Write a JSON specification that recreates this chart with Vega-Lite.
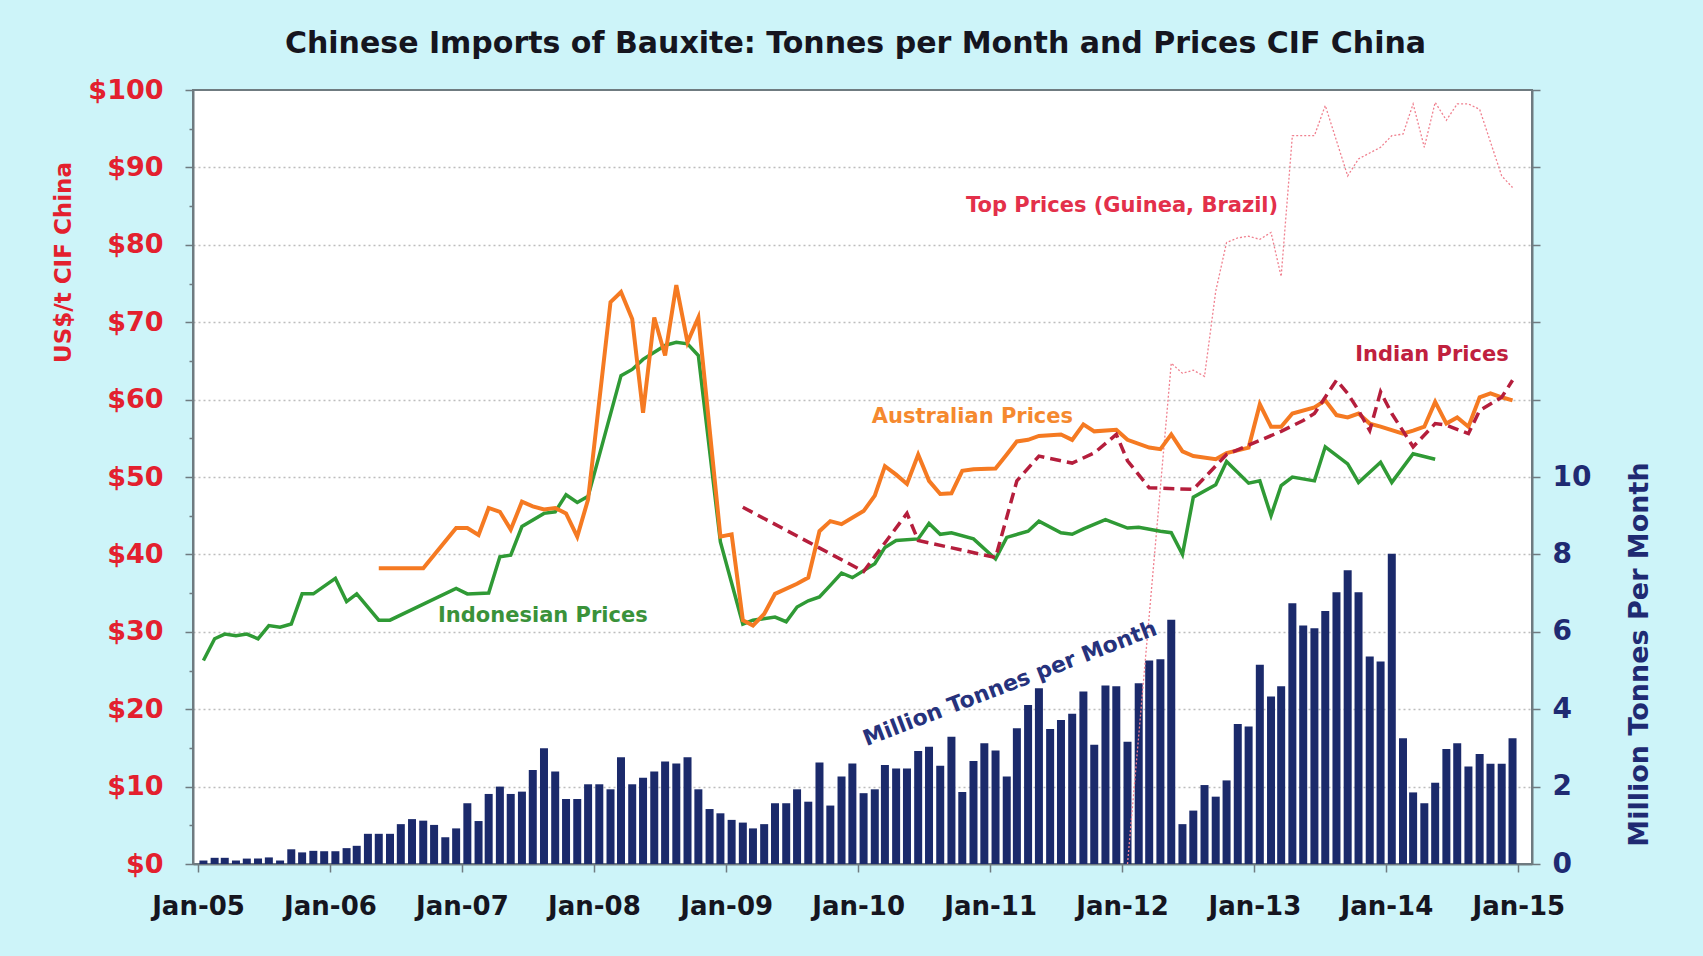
{
  "$schema": "https://vega.github.io/schema/vega-lite/v6.json",
  "width": 1339,
  "height": 774,
  "autosize": {"type": "none"},
  "padding": {"left": 193, "top": 90, "right": 171, "bottom": 92},
  "background": "#cdf4f9",
  "title": {
    "text": "Chinese Imports of Bauxite: Tonnes per Month and Prices CIF China",
    "font": "DejaVu Sans", "fontWeight": "bold", "fontSize": 30, "color": "#15151f",
    "baseline": "alphabetic", "offset": 39, "anchor": "middle", "dx": -7, "dy": 46
  },
  "config": {
    "view": {"fill": "white", "stroke": "#6f7b80", "strokeWidth": 2},
    "axis": {"labelFont": "DejaVu Sans", "titleFont": "DejaVu Sans", "labelFontWeight": "bold", "titleFontWeight": "bold", "domainColor": "#6f7b80", "domainWidth": 2, "tickColor": "#6f7b80", "tickWidth": 1.5}
  },
  "datasets": {
    "imports": [
      {"date": "2005-01-16", "mt": 0.09}, {"date": "2005-02-16", "mt": 0.16}, {"date": "2005-03-16", "mt": 0.16}, {"date": "2005-04-16", "mt": 0.09},
      {"date": "2005-05-16", "mt": 0.14}, {"date": "2005-06-16", "mt": 0.14}, {"date": "2005-07-16", "mt": 0.17}, {"date": "2005-08-16", "mt": 0.09},
      {"date": "2005-09-16", "mt": 0.38}, {"date": "2005-10-16", "mt": 0.30}, {"date": "2005-11-16", "mt": 0.34}, {"date": "2005-12-16", "mt": 0.33},
      {"date": "2006-01-16", "mt": 0.33}, {"date": "2006-02-16", "mt": 0.41}, {"date": "2006-03-16", "mt": 0.47}, {"date": "2006-04-16", "mt": 0.78},
      {"date": "2006-05-16", "mt": 0.78}, {"date": "2006-06-16", "mt": 0.78}, {"date": "2006-07-16", "mt": 1.03}, {"date": "2006-08-16", "mt": 1.16},
      {"date": "2006-09-16", "mt": 1.12}, {"date": "2006-10-16", "mt": 1.01}, {"date": "2006-11-16", "mt": 0.69}, {"date": "2006-12-16", "mt": 0.92},
      {"date": "2007-01-16", "mt": 1.57}, {"date": "2007-02-16", "mt": 1.11}, {"date": "2007-03-16", "mt": 1.81}, {"date": "2007-04-16", "mt": 2.00},
      {"date": "2007-05-16", "mt": 1.81}, {"date": "2007-06-16", "mt": 1.87}, {"date": "2007-07-16", "mt": 2.43}, {"date": "2007-08-16", "mt": 2.99},
      {"date": "2007-09-16", "mt": 2.39}, {"date": "2007-10-16", "mt": 1.68}, {"date": "2007-11-16", "mt": 1.68}, {"date": "2007-12-16", "mt": 2.06},
      {"date": "2008-01-16", "mt": 2.06}, {"date": "2008-02-16", "mt": 1.93}, {"date": "2008-03-16", "mt": 2.76}, {"date": "2008-04-16", "mt": 2.06},
      {"date": "2008-05-16", "mt": 2.23}, {"date": "2008-06-16", "mt": 2.39}, {"date": "2008-07-16", "mt": 2.65}, {"date": "2008-08-16", "mt": 2.60},
      {"date": "2008-09-16", "mt": 2.76}, {"date": "2008-10-16", "mt": 1.93}, {"date": "2008-11-16", "mt": 1.42}, {"date": "2008-12-16", "mt": 1.31},
      {"date": "2009-01-16", "mt": 1.14}, {"date": "2009-02-16", "mt": 1.07}, {"date": "2009-03-16", "mt": 0.92}, {"date": "2009-04-16", "mt": 1.03},
      {"date": "2009-05-16", "mt": 1.57}, {"date": "2009-06-16", "mt": 1.57}, {"date": "2009-07-16", "mt": 1.93}, {"date": "2009-08-16", "mt": 1.61},
      {"date": "2009-09-16", "mt": 2.62}, {"date": "2009-10-16", "mt": 1.51}, {"date": "2009-11-16", "mt": 2.26}, {"date": "2009-12-16", "mt": 2.60},
      {"date": "2010-01-16", "mt": 1.83}, {"date": "2010-02-16", "mt": 1.93}, {"date": "2010-03-16", "mt": 2.56}, {"date": "2010-04-16", "mt": 2.47},
      {"date": "2010-05-16", "mt": 2.47}, {"date": "2010-06-16", "mt": 2.92}, {"date": "2010-07-16", "mt": 3.03}, {"date": "2010-08-16", "mt": 2.54},
      {"date": "2010-09-16", "mt": 3.29}, {"date": "2010-10-16", "mt": 1.86}, {"date": "2010-11-16", "mt": 2.66}, {"date": "2010-12-16", "mt": 3.12},
      {"date": "2011-01-16", "mt": 2.93}, {"date": "2011-02-16", "mt": 2.26}, {"date": "2011-03-16", "mt": 3.51}, {"date": "2011-04-16", "mt": 4.11},
      {"date": "2011-05-16", "mt": 4.54}, {"date": "2011-06-16", "mt": 3.49}, {"date": "2011-07-16", "mt": 3.72}, {"date": "2011-08-16", "mt": 3.88},
      {"date": "2011-09-16", "mt": 4.46}, {"date": "2011-10-16", "mt": 3.08}, {"date": "2011-11-16", "mt": 4.61}, {"date": "2011-12-16", "mt": 4.59},
      {"date": "2012-01-16", "mt": 3.16}, {"date": "2012-02-16", "mt": 4.67}, {"date": "2012-03-16", "mt": 5.26}, {"date": "2012-04-16", "mt": 5.29},
      {"date": "2012-05-16", "mt": 6.31}, {"date": "2012-06-16", "mt": 1.03}, {"date": "2012-07-16", "mt": 1.38}, {"date": "2012-08-16", "mt": 2.04},
      {"date": "2012-09-16", "mt": 1.74}, {"date": "2012-10-16", "mt": 2.16}, {"date": "2012-11-16", "mt": 3.62}, {"date": "2012-12-16", "mt": 3.55},
      {"date": "2013-01-16", "mt": 5.15}, {"date": "2013-02-16", "mt": 4.33}, {"date": "2013-03-16", "mt": 4.59}, {"date": "2013-04-16", "mt": 6.74},
      {"date": "2013-05-16", "mt": 6.16}, {"date": "2013-06-16", "mt": 6.09}, {"date": "2013-07-16", "mt": 6.54}, {"date": "2013-08-16", "mt": 7.02},
      {"date": "2013-09-16", "mt": 7.59}, {"date": "2013-10-16", "mt": 7.02}, {"date": "2013-11-16", "mt": 5.36}, {"date": "2013-12-16", "mt": 5.23},
      {"date": "2014-01-16", "mt": 8.02}, {"date": "2014-02-16", "mt": 3.25}, {"date": "2014-03-16", "mt": 1.85}, {"date": "2014-04-16", "mt": 1.57},
      {"date": "2014-05-16", "mt": 2.10}, {"date": "2014-06-16", "mt": 2.97}, {"date": "2014-07-16", "mt": 3.12}, {"date": "2014-08-16", "mt": 2.52},
      {"date": "2014-09-16", "mt": 2.84}, {"date": "2014-10-16", "mt": 2.59}, {"date": "2014-11-16", "mt": 2.59}, {"date": "2014-12-16", "mt": 3.25}
    ],
    "indonesian": [
      {"date": "2005-01-16", "price": 26.3}, {"date": "2005-02-16", "price": 29.1}, {"date": "2005-03-16", "price": 29.7}, {"date": "2005-04-16", "price": 29.5},
      {"date": "2005-05-16", "price": 29.7}, {"date": "2005-06-16", "price": 29.1}, {"date": "2005-07-16", "price": 30.8}, {"date": "2005-08-16", "price": 30.6},
      {"date": "2005-09-16", "price": 31.0}, {"date": "2005-10-16", "price": 34.9}, {"date": "2005-11-16", "price": 34.9}, {"date": "2006-01-16", "price": 36.9},
      {"date": "2006-02-16", "price": 33.9}, {"date": "2006-03-16", "price": 34.9}, {"date": "2006-05-16", "price": 31.5}, {"date": "2006-06-16", "price": 31.5},
      {"date": "2006-12-16", "price": 35.6}, {"date": "2007-01-16", "price": 34.9}, {"date": "2007-03-16", "price": 35.0}, {"date": "2007-04-16", "price": 39.7},
      {"date": "2007-05-16", "price": 39.9}, {"date": "2007-06-16", "price": 43.6}, {"date": "2007-08-16", "price": 45.3}, {"date": "2007-09-16", "price": 45.5},
      {"date": "2007-10-16", "price": 47.7}, {"date": "2007-11-16", "price": 46.7}, {"date": "2007-12-16", "price": 47.5}, {"date": "2008-03-16", "price": 63.1},
      {"date": "2008-04-16", "price": 63.9}, {"date": "2008-05-16", "price": 65.2}, {"date": "2008-07-16", "price": 67.0}, {"date": "2008-08-16", "price": 67.4},
      {"date": "2008-09-16", "price": 67.2}, {"date": "2008-10-16", "price": 65.7}, {"date": "2008-12-16", "price": 41.6}, {"date": "2009-02-16", "price": 31.0},
      {"date": "2009-03-16", "price": 31.5}, {"date": "2009-05-16", "price": 31.9}, {"date": "2009-06-16", "price": 31.3}, {"date": "2009-07-16", "price": 33.2},
      {"date": "2009-08-16", "price": 34.0}, {"date": "2009-09-16", "price": 34.5}, {"date": "2009-10-16", "price": 36.0}, {"date": "2009-11-16", "price": 37.6},
      {"date": "2009-12-16", "price": 37.0}, {"date": "2010-02-16", "price": 38.8}, {"date": "2010-03-16", "price": 40.9}, {"date": "2010-04-16", "price": 41.8},
      {"date": "2010-06-16", "price": 42.0}, {"date": "2010-07-16", "price": 44.0}, {"date": "2010-08-16", "price": 42.6}, {"date": "2010-09-16", "price": 42.8},
      {"date": "2010-11-16", "price": 42.0}, {"date": "2011-01-16", "price": 39.4}, {"date": "2011-02-16", "price": 42.2}, {"date": "2011-04-16", "price": 43.0},
      {"date": "2011-05-16", "price": 44.3}, {"date": "2011-07-16", "price": 42.8}, {"date": "2011-08-16", "price": 42.6}, {"date": "2011-09-16", "price": 43.3},
      {"date": "2011-11-16", "price": 44.5}, {"date": "2012-01-16", "price": 43.4}, {"date": "2012-02-16", "price": 43.5}, {"date": "2012-04-16", "price": 43.0},
      {"date": "2012-05-16", "price": 42.8}, {"date": "2012-06-16", "price": 40.0}, {"date": "2012-07-16", "price": 47.4}, {"date": "2012-09-16", "price": 49.0},
      {"date": "2012-10-16", "price": 52.0}, {"date": "2012-12-16", "price": 49.2}, {"date": "2013-01-16", "price": 49.5}, {"date": "2013-02-16", "price": 45.0},
      {"date": "2013-03-16", "price": 48.9}, {"date": "2013-04-16", "price": 50.0}, {"date": "2013-06-16", "price": 49.5}, {"date": "2013-07-16", "price": 53.9},
      {"date": "2013-09-16", "price": 51.7}, {"date": "2013-10-16", "price": 49.3}, {"date": "2013-12-16", "price": 51.9}, {"date": "2014-01-16", "price": 49.3},
      {"date": "2014-03-16", "price": 53.0}, {"date": "2014-05-16", "price": 52.3}
    ],
    "australian": [
      {"date": "2006-05-16", "price": 38.2}, {"date": "2006-09-16", "price": 38.2}, {"date": "2006-12-16", "price": 43.4}, {"date": "2007-01-16", "price": 43.4},
      {"date": "2007-02-16", "price": 42.5}, {"date": "2007-03-16", "price": 46.0}, {"date": "2007-04-16", "price": 45.5}, {"date": "2007-05-16", "price": 43.2},
      {"date": "2007-06-16", "price": 46.8}, {"date": "2007-07-16", "price": 46.2}, {"date": "2007-08-16", "price": 45.8}, {"date": "2007-09-16", "price": 46.0},
      {"date": "2007-10-16", "price": 45.3}, {"date": "2007-11-16", "price": 42.3}, {"date": "2007-12-16", "price": 47.1}, {"date": "2008-02-16", "price": 72.6},
      {"date": "2008-03-16", "price": 73.9}, {"date": "2008-04-16", "price": 70.4}, {"date": "2008-05-16", "price": 58.3}, {"date": "2008-06-16", "price": 70.6},
      {"date": "2008-07-16", "price": 65.7}, {"date": "2008-08-16", "price": 74.8}, {"date": "2008-09-16", "price": 67.4}, {"date": "2008-10-16", "price": 70.6},
      {"date": "2008-12-16", "price": 42.3}, {"date": "2009-01-16", "price": 42.6}, {"date": "2009-02-16", "price": 31.5}, {"date": "2009-03-16", "price": 30.8},
      {"date": "2009-04-16", "price": 32.3}, {"date": "2009-05-16", "price": 34.9}, {"date": "2009-07-16", "price": 36.2}, {"date": "2009-08-16", "price": 37.0},
      {"date": "2009-09-16", "price": 43.0}, {"date": "2009-10-16", "price": 44.3}, {"date": "2009-11-16", "price": 43.9}, {"date": "2010-01-16", "price": 45.6},
      {"date": "2010-02-16", "price": 47.6}, {"date": "2010-03-16", "price": 51.4}, {"date": "2010-04-16", "price": 50.3}, {"date": "2010-05-16", "price": 49.1},
      {"date": "2010-06-16", "price": 52.9}, {"date": "2010-07-16", "price": 49.5}, {"date": "2010-08-16", "price": 47.8}, {"date": "2010-09-16", "price": 47.9},
      {"date": "2010-10-16", "price": 50.8}, {"date": "2010-11-16", "price": 51.0}, {"date": "2011-01-16", "price": 51.1}, {"date": "2011-02-16", "price": 52.9},
      {"date": "2011-03-16", "price": 54.6}, {"date": "2011-04-16", "price": 54.8}, {"date": "2011-05-16", "price": 55.3}, {"date": "2011-07-16", "price": 55.5},
      {"date": "2011-08-16", "price": 54.8}, {"date": "2011-09-16", "price": 56.8}, {"date": "2011-10-16", "price": 55.9}, {"date": "2011-12-16", "price": 56.1},
      {"date": "2012-01-16", "price": 54.8}, {"date": "2012-03-16", "price": 53.8}, {"date": "2012-04-16", "price": 53.6}, {"date": "2012-05-16", "price": 55.5},
      {"date": "2012-06-16", "price": 53.3}, {"date": "2012-07-16", "price": 52.7}, {"date": "2012-09-16", "price": 52.3}, {"date": "2012-10-16", "price": 53.1},
      {"date": "2012-12-16", "price": 53.8}, {"date": "2013-01-16", "price": 59.4}, {"date": "2013-02-16", "price": 56.5}, {"date": "2013-03-16", "price": 56.5},
      {"date": "2013-04-16", "price": 58.2}, {"date": "2013-06-16", "price": 59.0}, {"date": "2013-07-16", "price": 59.9}, {"date": "2013-08-16", "price": 58.0},
      {"date": "2013-09-16", "price": 57.7}, {"date": "2013-10-16", "price": 58.2}, {"date": "2013-11-16", "price": 56.9}, {"date": "2013-12-16", "price": 56.5},
      {"date": "2014-02-16", "price": 55.6}, {"date": "2014-03-16", "price": 56.0}, {"date": "2014-04-16", "price": 56.5}, {"date": "2014-05-16", "price": 59.7},
      {"date": "2014-06-16", "price": 56.9}, {"date": "2014-07-16", "price": 57.7}, {"date": "2014-08-16", "price": 56.5}, {"date": "2014-09-16", "price": 60.3},
      {"date": "2014-10-16", "price": 60.8}, {"date": "2014-11-16", "price": 60.3}, {"date": "2014-12-16", "price": 59.9}
    ],
    "indian": [
      {"date": "2009-02-16", "price": 46.1}, {"date": "2010-01-16", "price": 37.8}, {"date": "2010-05-16", "price": 45.3}, {"date": "2010-06-16", "price": 41.8},
      {"date": "2011-01-16", "price": 39.6}, {"date": "2011-03-16", "price": 49.5}, {"date": "2011-05-16", "price": 52.7}, {"date": "2011-07-16", "price": 52.1},
      {"date": "2011-08-16", "price": 51.8}, {"date": "2011-10-16", "price": 53.1}, {"date": "2011-12-16", "price": 55.5}, {"date": "2012-01-16", "price": 52.1},
      {"date": "2012-03-16", "price": 48.6}, {"date": "2012-07-16", "price": 48.4}, {"date": "2012-10-16", "price": 52.9}, {"date": "2013-03-16", "price": 55.9},
      {"date": "2013-05-16", "price": 57.3}, {"date": "2013-06-16", "price": 58.2}, {"date": "2013-08-16", "price": 62.5}, {"date": "2013-09-16", "price": 60.8},
      {"date": "2013-10-16", "price": 58.6}, {"date": "2013-11-16", "price": 56.0}, {"date": "2013-12-16", "price": 61.0}, {"date": "2014-01-16", "price": 58.2},
      {"date": "2014-03-16", "price": 53.9}, {"date": "2014-05-16", "price": 56.9}, {"date": "2014-06-16", "price": 56.7}, {"date": "2014-08-16", "price": 55.6},
      {"date": "2014-09-16", "price": 58.6}, {"date": "2014-11-16", "price": 60.3}, {"date": "2014-12-16", "price": 62.5}
    ],
    "top": [
      {"date": "2012-01-16", "price": 0}, {"date": "2012-05-16", "price": 64.7}, {"date": "2012-06-16", "price": 63.4}, {"date": "2012-07-16", "price": 63.8},
      {"date": "2012-08-16", "price": 63.0}, {"date": "2012-09-16", "price": 74.0}, {"date": "2012-10-16", "price": 80.3}, {"date": "2012-11-16", "price": 80.9},
      {"date": "2012-12-16", "price": 81.1}, {"date": "2013-01-16", "price": 80.7}, {"date": "2013-02-16", "price": 81.6}, {"date": "2013-03-16", "price": 75.9},
      {"date": "2013-04-16", "price": 94.1}, {"date": "2013-06-16", "price": 94.1}, {"date": "2013-07-16", "price": 98.0}, {"date": "2013-09-16", "price": 88.9},
      {"date": "2013-10-16", "price": 91.1}, {"date": "2013-12-16", "price": 92.6}, {"date": "2014-01-16", "price": 94.1}, {"date": "2014-02-16", "price": 94.3},
      {"date": "2014-03-16", "price": 98.2}, {"date": "2014-04-16", "price": 92.6}, {"date": "2014-05-16", "price": 98.4}, {"date": "2014-06-16", "price": 96.1},
      {"date": "2014-07-16", "price": 98.2}, {"date": "2014-08-16", "price": 98.2}, {"date": "2014-09-16", "price": 97.5}, {"date": "2014-11-16", "price": 88.9},
      {"date": "2014-12-16", "price": 87.4}
    ],
    "labels": [
      {"date": "2007-08-13", "price": 32.0, "text": "Indonesian Prices"},
      {"date": "2010-11-13", "price": 57.8, "text": "Australian Prices"},
      {"date": "2012-01-01", "price": 85.0, "text": "Top Prices (Guinea, Brazil)"},
      {"date": "2014-05-07", "price": 65.8, "text": "Indian Prices"}
    ],
    "barlabel": [
      {"date": "2011-02-25", "price": 23.3, "text": "Million Tonnes per Month"}
    ]
  },
  "encoding": {
    "x": {
      "field": "date", "type": "temporal",
      "scale": {"type": "utc", "domain": [{"year": 2005, "month": 1, "date": 1, "utc": true}, {"year": 2015, "month": 1, "date": 25, "utc": true}]},
      "axis": {
        "title": null, "grid": false,
        "labelExpr": "utcFormat(datum.value, '%b-%y')",
        "values": [
          {"year": 2005, "month": 1, "date": 1, "utc": true}, {"year": 2006, "month": 1, "date": 1, "utc": true},
          {"year": 2007, "month": 1, "date": 1, "utc": true}, {"year": 2008, "month": 1, "date": 1, "utc": true},
          {"year": 2009, "month": 1, "date": 1, "utc": true}, {"year": 2010, "month": 1, "date": 1, "utc": true},
          {"year": 2011, "month": 1, "date": 1, "utc": true}, {"year": 2012, "month": 1, "date": 1, "utc": true},
          {"year": 2013, "month": 1, "date": 1, "utc": true}, {"year": 2014, "month": 1, "date": 1, "utc": true},
          {"year": 2015, "month": 1, "date": 1, "utc": true}
        ],
        "labelFontSize": 26, "labelColor": "#15151f", "labelBaseline": "alphabetic",
        "tickSize": 8, "labelPadding": 42, "labelFlush": false, "labelOverlap": false
      }
    }
  },
  "layer": [
    {
      "data": {"name": "imports"},
      "mark": {"type": "bar", "width": 8, "color": "#1b2a6b"},
      "encoding": {
        "y": {
          "field": "mt", "type": "quantitative",
          "scale": {"domain": [0, 20], "nice": false},
          "axis": {
            "orient": "right", "values": [0, 2, 4, 6, 8, 10, 12, 14, 16, 18, 20],
            "labelExpr": "datum.value <= 10 ? datum.value : ''",
            "grid": false, "labelFontSize": 28, "labelColor": "#1f2a72", "tickSize": 8, "labelPadding": 12,
            "title": "Million Tonnes Per Month", "titleColor": "#1f2a72", "titleFontSize": 27,
            "titleAngle": 270, "titleX": 107, "titleY": 564, "titleAlign": "center", "titleBaseline": "middle"
          }
        }
      }
    },
    {
      "encoding": {
        "y": {
          "field": "price", "type": "quantitative",
          "scale": {"domain": [0, 100], "nice": false},
          "axis": {
            "orient": "left", "values": [0, 5, 10, 15, 20, 25, 30, 35, 40, 45, 50, 55, 60, 65, 70, 75, 80, 85, 90, 95, 100],
            "labelExpr": "datum.value % 10 == 0 ? '$' + datum.value : ''",
            "labelFontSize": 27, "labelColor": "#e3202e", "labelPadding": 22,
            "tickSize": {"condition": {"test": "datum.value % 10 == 0", "value": 8}, "value": 4},
            "grid": true, "gridColor": "#bdbdbd", "gridDash": [2, 3], "gridWidth": 1.5,
            "gridOpacity": {"condition": {"test": "datum.value % 10 == 0 && datum.value > 0 && datum.value < 100", "value": 1}, "value": 0},
            "title": "US$/t CIF China", "titleColor": "#e3202e", "titleFontSize": 23,
            "titleAngle": 270, "titleX": -130, "titleY": 172, "titleAlign": "center", "titleBaseline": "middle"
          }
        }
      },
      "layer": [
        {
          "data": {"name": "top"},
          "mark": {"type": "line", "color": "#f0808f", "strokeWidth": 1.3, "strokeDash": [2, 2]}
        },
        {
          "data": {"name": "indonesian"},
          "mark": {"type": "line", "color": "#2f9a35", "strokeWidth": 3.5}
        },
        {
          "data": {"name": "australian"},
          "mark": {"type": "line", "color": "#f57a22", "strokeWidth": 4}
        },
        {
          "data": {"name": "indian"},
          "mark": {"type": "line", "color": "#b51e3c", "strokeWidth": 3.5, "strokeDash": [11, 6]}
        },
        {
          "data": {"name": "labels"},
          "mark": {"type": "text", "font": "DejaVu Sans", "fontWeight": "bold", "fontSize": 21, "align": "center", "baseline": "middle"},
          "encoding": {
            "text": {"field": "text"},
            "color": {
              "field": "text", "type": "nominal", "legend": null,
              "scale": {"domain": ["Indonesian Prices", "Australian Prices", "Top Prices (Guinea, Brazil)", "Indian Prices"], "range": ["#3a923a", "#f5892f", "#e3304a", "#c0203e"]}
            }
          }
        },
        {
          "data": {"name": "barlabel"},
          "mark": {"type": "text", "font": "DejaVu Sans", "fontWeight": "bold", "fontSize": 22, "align": "center", "baseline": "middle", "angle": 339, "color": "#26327c"},
          "encoding": {"text": {"field": "text"}}
        }
      ]
    }
  ],
  "resolve": {"scale": {"y": "independent"}}
}
